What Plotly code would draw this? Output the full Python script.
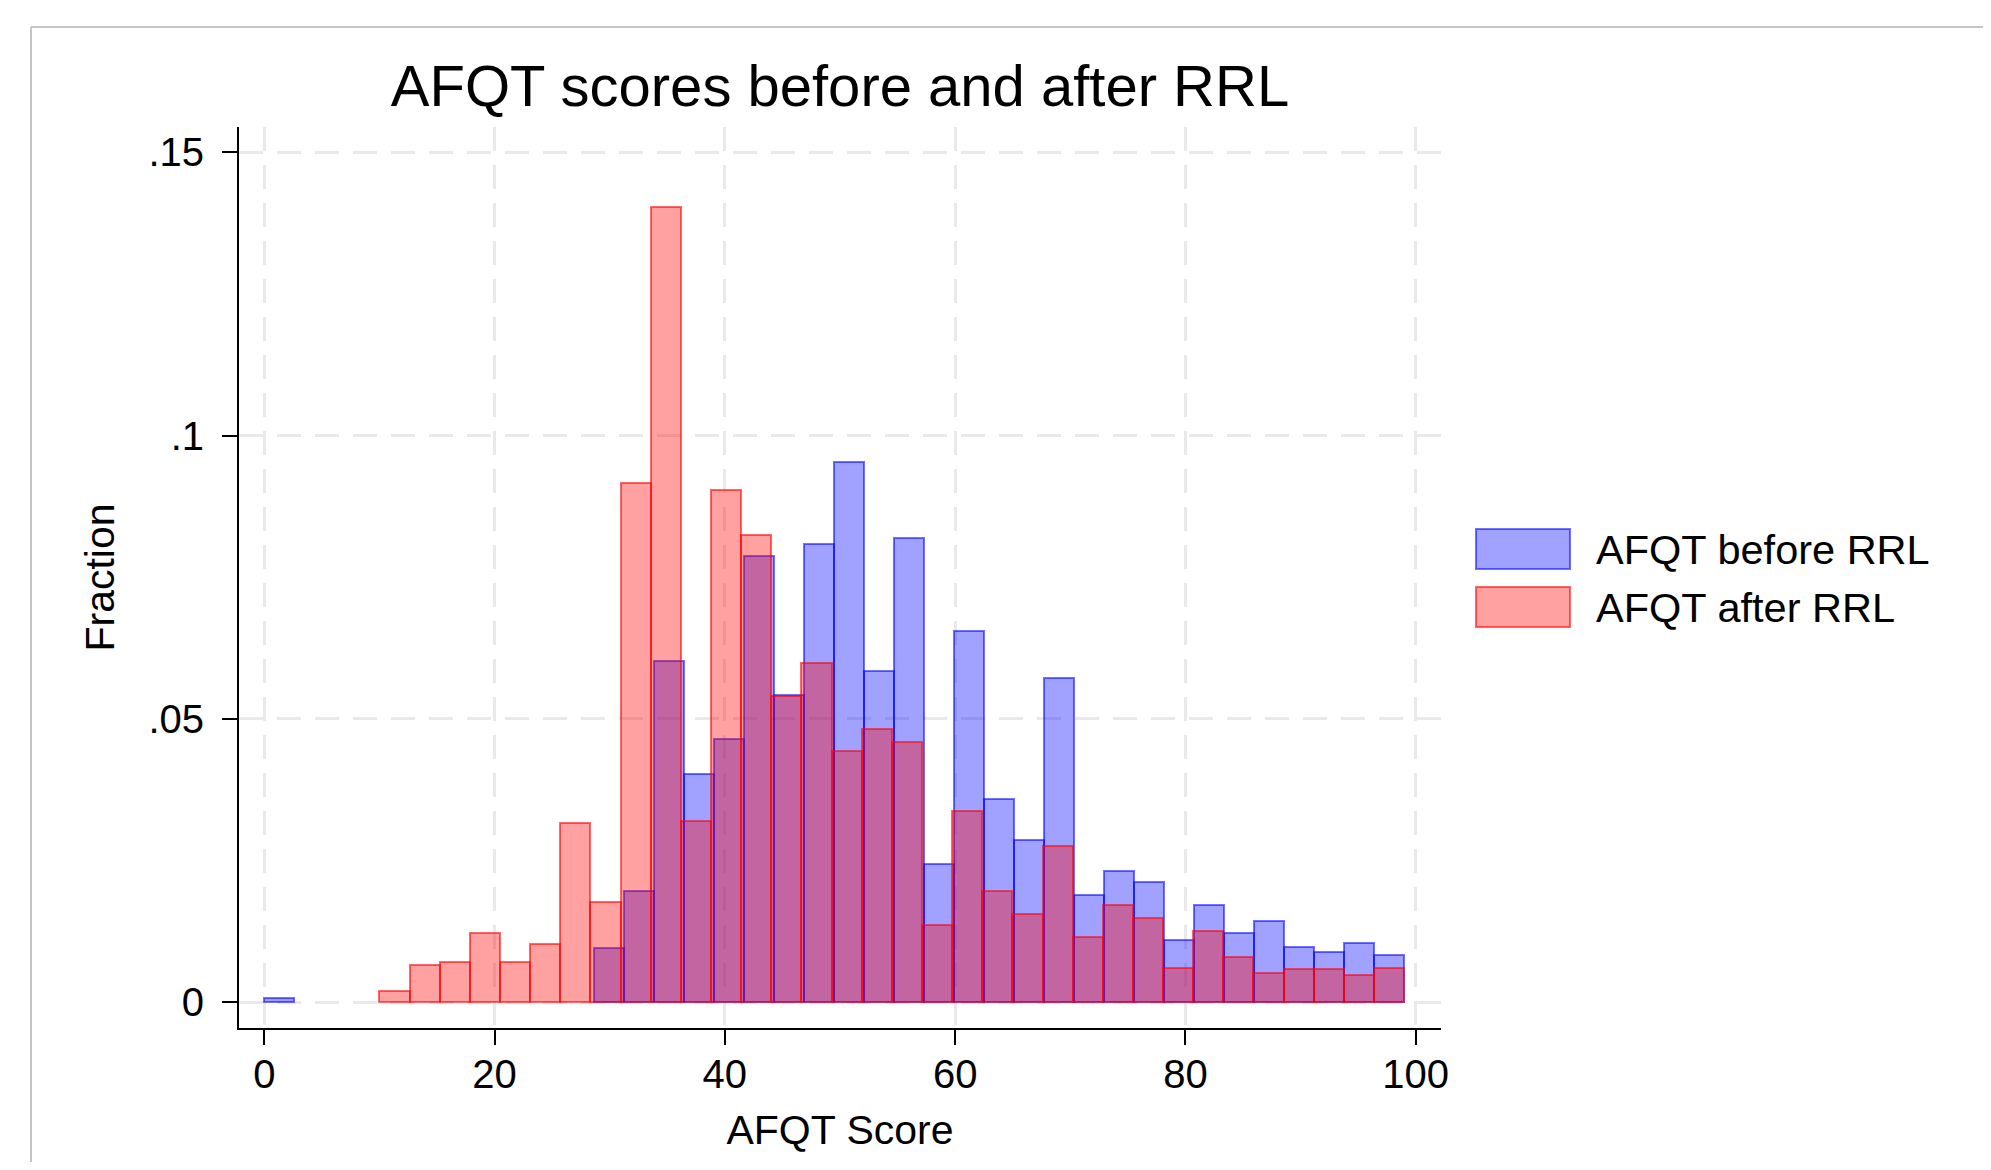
import plotly.graph_objects as go

# ---------------- data ----------------
before_bin_start = 0.0
before_bin_width = 99 / 38
before_fraction = [0.0007, 0, 0, 0, 0, 0, 0, 0, 0, 0, 0,
                   0.0095, 0.0197, 0.0603, 0.0403, 0.0464, 0.0788, 0.0543,
                   0.0809, 0.0953, 0.0585, 0.0819, 0.0244, 0.0656, 0.0358,
                   0.0286, 0.0573, 0.0189, 0.0232, 0.0212, 0.0110, 0.0171,
                   0.0122, 0.0143, 0.0097, 0.0089, 0.0104, 0.0083]

after_bin_start = 10.0
after_bin_width = 89 / 34
after_fraction = [0.0020, 0.0065, 0.0071, 0.0122, 0.0071, 0.0103, 0.0316,
                  0.0177, 0.0917, 0.1403, 0.0320, 0.0904, 0.0825, 0.0540,
                  0.0598, 0.0443, 0.0483, 0.0460, 0.0136, 0.0337, 0.0196,
                  0.0155, 0.0275, 0.0116, 0.0171, 0.0148, 0.0061, 0.0126,
                  0.0080, 0.0052, 0.0059, 0.0059, 0.0049, 0.0061]

series_names = ["AFQT before RRL", "AFQT after RRL"]
x_ticks = [0, 20, 40, 60, 80, 100]
y_ticks = [0, 0.05, 0.1, 0.15]
y_tick_labels = ["0", ".05", ".1", ".15"]

# ---------------- style ----------------
FONT = "Liberation Sans, Arial, Helvetica, sans-serif"
BLUE_FILL = "rgba(0,0,255,0.37)"
BLUE_LINE = "rgba(0,0,255,0.55)"
RED_FILL = "rgba(255,0,0,0.37)"
RED_LINE = "rgba(255,0,0,0.58)"

OFF = 8  # page body margin offset
W, H = 1991 - 2 * OFF, 1170 - 2 * OFF
ML, MT = 239 - OFF, 127 - OFF
MR = W - (1441 - OFF)
MB = H - (1028 - OFF)
PW, PH = W - ML - MR, H - MT - MB


def px_x(x):
    """reference page pixel -> paper coordinate"""
    return (x - OFF - ML) / PW


def px_y(y):
    return 1 - (y - OFF - MT) / PH


def bins(start, width, values):
    xs, ys = [], []
    for i, v in enumerate(values):
        if v > 0:
            xs.append(start + width * (i + 0.5))
            ys.append(v)
    return xs, ys


fig = go.Figure()
bx, by = bins(before_bin_start, before_bin_width, before_fraction)
fig.add_trace(go.Bar(
    x=bx, y=by, width=before_bin_width, name=series_names[0],
    marker=dict(color=BLUE_FILL, line=dict(color=BLUE_LINE, width=2)),
))
ax, ay = bins(after_bin_start, after_bin_width, after_fraction)
fig.add_trace(go.Bar(
    x=ax, y=ay, width=after_bin_width, name=series_names[1],
    marker=dict(color=RED_FILL, line=dict(color=RED_LINE, width=2)),
))

grid = dict(showgrid=True, gridcolor="#E9E9E9", gridwidth=3, griddash="24px,14px")

fig.update_layout(
    width=W, height=H, autosize=False,
    margin=dict(l=ML, r=MR, t=MT, b=MB, pad=0),
    paper_bgcolor="white", plot_bgcolor="white",
    barmode="overlay", bargap=0,
    showlegend=False,
    font=dict(family=FONT, size=40, color="black"),
    title=dict(text="AFQT scores before and after RRL", x=px_x(840), xref="paper",
               xanchor="center", y=1 - (86 - OFF) / H, yref="container", yanchor="middle",
               font=dict(size=58, family=FONT, color="black")),
    xaxis=dict(range=[-2.2, 102.2], tickvals=x_ticks, ticks="outside", ticklen=15,
               tickwidth=2, tickcolor="black", showline=True, linecolor="black",
               linewidth=2, zeroline=False, ticklabelstandoff=-5,
               title=dict(text="AFQT Score", standoff=20, font=dict(size=41)),
               **grid),
    yaxis=dict(range=[-0.00453, 0.15446], tickvals=y_ticks, ticktext=y_tick_labels,
               ticks="outside", ticklen=15, tickwidth=2, tickcolor="black",
               showline=True, linecolor="black", linewidth=2, zeroline=False,
               ticklabelstandoff=10,
               title=dict(text="Fraction", standoff=21, font=dict(size=41)),
               **grid),
)

# outer frame lines (light gray)
fig.add_shape(type="line", xref="paper", yref="paper", x0=px_x(31), x1=px_x(2000),
              y0=px_y(27), y1=px_y(27), line=dict(color="#C4C4C4", width=2), layer="below")
fig.add_shape(type="line", xref="paper", yref="paper", x0=px_x(31), x1=px_x(31),
              y0=px_y(27), y1=px_y(1180), line=dict(color="#C4C4C4", width=2), layer="below")

# manual legend
legend_items = [(series_names[0], BLUE_FILL, BLUE_LINE, 529),
                (series_names[1], RED_FILL, RED_LINE, 587)]
for name, fill, line, top in legend_items:
    fig.add_shape(type="rect", xref="paper", yref="paper",
                  x0=px_x(1476), x1=px_x(1570), y0=px_y(top), y1=px_y(top + 40),
                  fillcolor=fill, line=dict(color=line, width=2))
    fig.add_annotation(xref="paper", yref="paper", x=px_x(1594), y=px_y(top + 20),
                       text=name, showarrow=False, xanchor="left", yanchor="middle",
                       font=dict(size=41.5, family=FONT, color="black"))

fig.write_html("out.html")
